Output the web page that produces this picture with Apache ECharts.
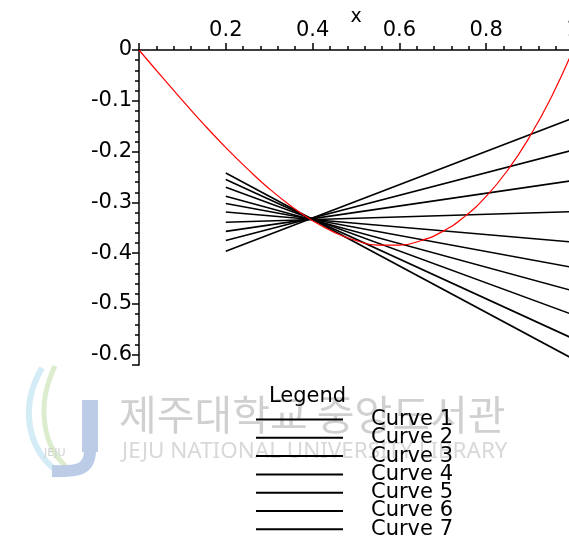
<!DOCTYPE html>
<html>
<head>
<meta charset="utf-8">
<script src="https://cdn.jsdelivr.net/npm/echarts@6/dist/echarts.min.js"></script>
<style>
html,body{margin:0;padding:0;background:#fff;}
#chart{width:569px;height:539px;}
</style>
</head>
<body>
<div id="chart"></div>
<script>
// ---- data ----
const xTicks = [0, 0.2, 0.4, 0.6, 0.8, 1];
const yTicks = [0, -0.1, -0.2, -0.3, -0.4, -0.5, -0.6];

// red curve
const curveX = [0, 0.05, 0.1, 0.15, 0.2, 0.25, 0.3, 0.35, 0.4, 0.45, 0.5, 0.55, 0.6, 0.65, 0.7, 0.75, 0.8, 0.85, 0.9, 0.95, 1.0];
const curveY = [0, -0.050, -0.099, -0.147, -0.192, -0.234, -0.273, -0.307, -0.336, -0.359, -0.375, -0.384, -0.384, -0.375, -0.357, -0.328, -0.288, -0.236, -0.171, -0.093, 0];

// black straight lines: value at x = 0.2 and at x = 1
const lineX = [0.2, 1.0];
const lineStartY = [-0.242, -0.255, -0.270, -0.288, -0.302, -0.319, -0.339, -0.357, -0.375, -0.396];
const lineEndY   = [-0.608, -0.568, -0.521, -0.474, -0.428, -0.378, -0.318, -0.257, -0.197, -0.134];
const lineNames  = ['Curve 1','Curve 2','Curve 3','Curve 4','Curve 5','Curve 6','Curve 7','Curve 8','Curve 9','Curve 10'];
const legendNames = ['Curve 1','Curve 2','Curve 3','Curve 4','Curve 5','Curve 6','Curve 7'];

const FONT = 'DejaVu Sans';

const series = lineNames.map((name, i) => ({
  name: name,
  type: 'line',
  symbol: 'none',
  data: [[lineX[0], lineStartY[i]], [lineX[1], lineEndY[i]]],
  lineStyle: { color: '#000', width: 1.6 },
  itemStyle: { color: '#000' },
  z: 2,
  silent: true,
  animation: false
}));
series.push({
  name: 'f',
  type: 'line',
  symbol: 'none',
  smooth: true,
  data: curveX.map((x, i) => [x, curveY[i]]),
  lineStyle: { color: '#ff0000', width: 1.2 },
  itemStyle: { color: '#ff0000' },
  z: 3,
  animation: false
});

const chart = echarts.init(document.getElementById('chart'), null, { renderer: 'canvas' });
chart.setOption({
  animation: false,
  backgroundColor: '#fff',
  title: {
    text: 'Legend', left: 264, top: 381,
    textStyle: { fontFamily: FONT, fontSize: 21, fontWeight: 'normal', color: '#000' }
  },
  legend: {
    data: legendNames,
    orient: 'vertical',
    left: 256, top: 409, height: 200,
    icon: 'rect',
    itemWidth: 87, itemHeight: 2,
    itemGap: -2.7,
    padding: 0,
    itemStyle: { color: '#000' },
    textStyle: { fontFamily: FONT, fontSize: 21, color: '#000', padding: [0, 0, 0, 23] },
    selectedMode: false
  },
  grid: { left: 139, top: 50, width: 434, height: 315, containLabel: false, outerBoundsMode: 'none' },
  xAxis: {
    type: 'value', position: 'top', min: xTicks[0], max: xTicks[xTicks.length - 1], interval: 0.2,
    name: 'x', nameLocation: 'middle', nameGap: 23, nameMoveOverlap: false,
    nameTextStyle: { fontFamily: FONT, fontSize: 19, color: '#000' },
    axisLine: { onZero: false, lineStyle: { color: '#000', width: 1.5 } },
    axisTick: { show: true, inside: false, length: 7, lineStyle: { color: '#000', width: 1.5 } },
    minorTick: { show: true, splitNumber: 5, length: 4, lineStyle: { color: '#000', width: 1.5 } },
    axisLabel: {
      fontFamily: FONT, fontSize: 21, color: '#000', margin: 9,
      formatter: v => (v === 0 ? '' : String(v))
    },
    splitLine: { show: false }
  },
  yAxis: {
    type: 'value', min: -0.62, max: yTicks[0],
    axisLine: { onZero: false, lineStyle: { color: '#000', width: 1.5 } },
    axisTick: { show: true, inside: false, length: 7, lineStyle: { color: '#000', width: 1.5 } },
    minorTick: { show: true, splitNumber: 5, length: 4, lineStyle: { color: '#000', width: 1.5 } },
    axisLabel: { fontFamily: FONT, fontSize: 21, color: '#000', margin: 7, showMinLabel: false },
    splitLine: { show: false }
  },
  graphic: [
    // watermark (behind)
    {
      type: 'group', z: -10, silent: true,
      children: [
        { type: 'bezierCurve', shape: { x1: 42, y1: 368, cpx1: 20, cpy1: 405, cpx2: 26, cpy2: 448, x2: 58, y2: 472 }, style: { stroke: '#d3ecf5', lineWidth: 6, fill: null } },
        { type: 'bezierCurve', shape: { x1: 55, y1: 366, cpx1: 36, cpy1: 405, cpx2: 42, cpy2: 448, x2: 70, y2: 470 }, style: { stroke: '#dcedce', lineWidth: 5, fill: null } },
        { type: 'rect', shape: { x: 82, y: 400, width: 16, height: 52 }, style: { fill: '#bccbe6' } },
        { type: 'bezierCurve', shape: { x1: 90, y1: 450, cpx1: 90, cpy1: 470, cpx2: 78, cpy2: 472, x2: 52, y2: 471 }, style: { stroke: '#bccbe6', lineWidth: 12, fill: null } },
        { type: 'text', style: { text: 'JEJU', x: 44, y: 448, fontSize: 11, fontFamily: FONT, fill: '#d2d2d2' } },
        { type: 'text', style: { text: '제주대학교 중앙도서관', x: 119, y: 394, fontSize: 41, fontFamily: 'Noto Sans CJK KR', fill: '#d0d0d0' } },
        { type: 'text', x: 122, y: 441, scaleX: 1.02, style: { text: 'JEJU NATIONAL UNIVERSITY LIBRARY', x: 0, y: 0, fontSize: 22, fontFamily: 'Noto Sans', fill: '#d8d8d8' } }
      ]
    }
  ],
  series: series
});
</script>
</body>
</html>
